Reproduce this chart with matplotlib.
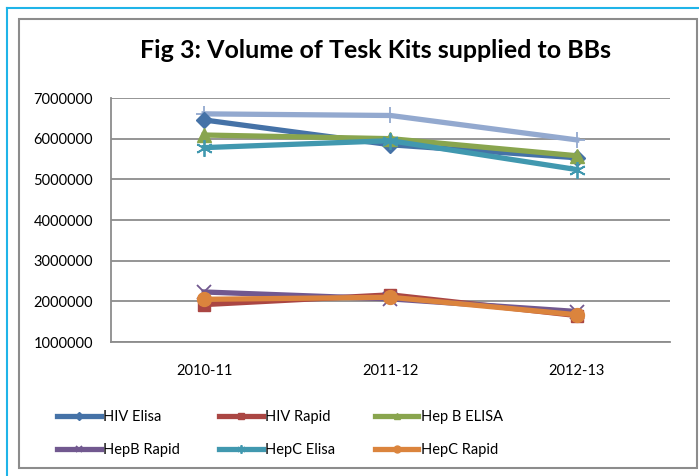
import matplotlib.pyplot as plt
from matplotlib.lines import Line2D
from matplotlib.patches import Rectangle

plt.rcParams['font.family'] = ['Lato', 'DejaVu Sans']

# Data
years = ["2010-11", "2011-12", "2012-13"]
hiv_elisa = [6460000, 5850000, 5530000]
hiv_rapid = [1920000, 2160000, 1650000]
hepb_elisa = [6090000, 6000000, 5580000]
hepb_rapid = [2230000, 2060000, 1750000]
hepc_elisa = [5780000, 5950000, 5240000]
hepc_rapid = [2050000, 2100000, 1670000]
# unlabelled series (not in the legend)
extra = [6610000, 6570000, 5970000]

W, H = 699, 476
fig = plt.figure(figsize=(W / 100, H / 100), dpi=100)

# outer frames
fig.add_artist(Line2D([7 / W, 1], [1 - 8 / H, 1 - 8 / H], color="#1fb4e8", lw=1.5))
fig.add_artist(Line2D([7 / W, 7 / W], [0, 1 - 8 / H], color="#1fb4e8", lw=1.5))
fig.add_artist(Rectangle((19 / W, 1 - 468 / H), (697 - 19) / W, (468 - 19) / H,
                         fill=False, ec="#8c8c8c", lw=1.5))

ax = fig.add_axes([111 / W, 1 - 342 / H, (670 - 111) / W, (342 - 98) / H])

x = range(len(years))
lw = 3.8
ax.plot(x, extra, color="#93a9cf", lw=lw, marker="+", ms=12, mew=1.3)
series = [
    ("HIV Elisa", hiv_elisa, "#4572a7", "D", 8),
    ("HIV Rapid", hiv_rapid, "#aa4643", "s", 9),
    ("Hep B ELISA", hepb_elisa, "#89a54e", "^", 10),
    ("HepB Rapid", hepb_rapid, "#71588f", "x", 10),
    ("HepC Elisa", hepc_elisa, "#4198af", (6, 2, 0), 12),
    ("HepC Rapid", hepc_rapid, "#db843d", "o", 10),
]
handles = {}
for name, vals, col, mk, ms in series:
    mew = 1.3 if mk in ("x", (6, 2, 0)) else 1
    h, = ax.plot(x, vals, color=col, lw=lw, marker=mk, ms=ms, mew=mew, label=name)
    handles[name] = h

ax.set_xlim(-0.5, 2.5)
ax.set_ylim(1000000, 7000000)
ax.set_yticks(range(1000000, 7000001, 1000000))
ax.set_yticklabels([str(v) for v in range(1000000, 7000001, 1000000)])
ax.set_xticks(list(x))
ax.set_xticklabels(years)
ax.yaxis.grid(True, color="#8c8c8c", lw=1.3)
ax.set_axisbelow(True)
for s in ("top", "right"):
    ax.spines[s].set_visible(False)
ax.spines["left"].set_color("#8c8c8c")
ax.spines["bottom"].set_color("#8c8c8c")
ax.spines["left"].set_linewidth(1.3)
ax.spines["bottom"].set_linewidth(1.3)
ax.tick_params(length=0, labelsize=10.5, colors="black")
ax.tick_params(axis="y", pad=13)
ax.tick_params(axis="x", pad=16)

fig.text(375 / W, 1 - 51 / H, "Fig 3: Volume of Tesk Kits supplied to BBs",
         ha="center", va="center", fontsize=18, fontweight="bold")

order = ["HIV Elisa", "HepB Rapid", "HIV Rapid", "HepC Elisa", "Hep B ELISA", "HepC Rapid"]
leg = fig.legend([handles[n] for n in order], order, ncol=3,
                 loc="upper left", bbox_to_anchor=(57 / W, 1 - 410 / H),
                 frameon=False, fontsize=10.5, handlelength=3.0, columnspacing=2.7,
                 handletextpad=0.15, markerscale=0.5, labelspacing=1.3,
                 borderpad=0, borderaxespad=0)

fig.savefig("out.png", dpi=100)
